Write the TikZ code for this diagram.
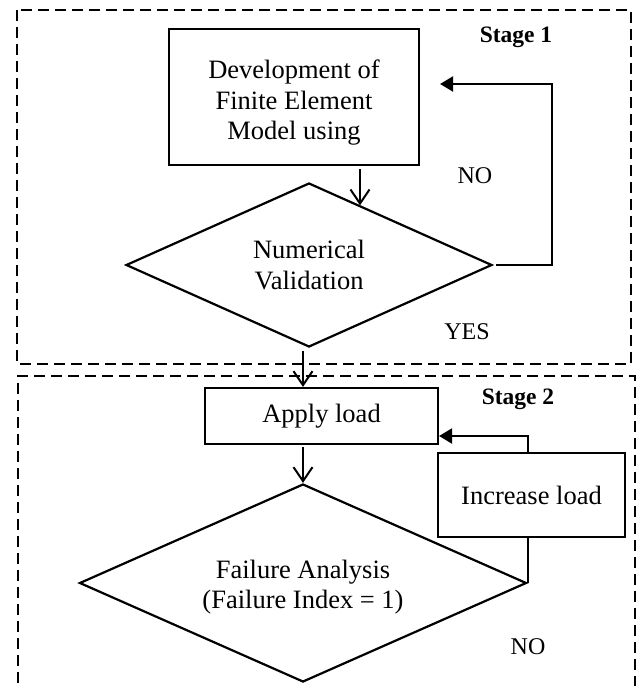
\documentclass[tikz,border=0pt]{standalone}
\usepackage{fontspec}
\setmainfont{Liberation Serif}
\usetikzlibrary{shapes.geometric,arrows.meta}

\begin{document}
\begin{tikzpicture}[x=1pt,y=-1pt,
        boxtext/.style={align=center,inner sep=0pt,font=\fontsize{26.5}{30.5}\selectfont},
        box/.style={draw,line width=2.1pt,boxtext},
        decision/.style={draw,diamond,aspect=2.2,line width=2.2pt,boxtext},
        barb/.style={line width=2pt,-{Straight Barb[length=14pt,width=19pt]}},
        tri/.style={line width=2.1pt,-{Triangle[length=13pt,width=15pt]}},
        stage/.style={line width=2.4pt,dash pattern=on 11pt off 6pt},
        lbl/.style={font=\fontsize{24}{28}\selectfont},
        stagelbl/.style={font=\bfseries\fontsize{23.5}{28}\selectfont}]
                \useasboundingbox (0,0) rectangle (639,686);
                \begin{scope}
                \clip (0,0) rectangle (639,686);
                % the two stages
                \draw[stage] (17,10) rectangle (631,364);
                \draw[stage] (18,700) -- (18,376) -- (635,376) -- (635,700);
                \end{scope}

                \node[box,minimum width=250pt,minimum height=136pt] (dev) at (294,97) {};
                \node[boxtext] (devtext) at ([yshift=-6pt]dev.center) {Development of\\Finite Element\\Model using};
                \node[decision,minimum width=366pt,minimum height=164pt] (val) at (309,265) {Numerical\\Validation};
                \node[box,minimum width=233pt,minimum height=56pt] (apply) at (321.5,416) {Apply load};
                \node[decision,minimum width=447pt,minimum height=198pt] (fail) at (303,583) {};
                \node[boxtext] (failtext) at ([yshift=-4pt]fail.center) {Failure Analysis\\(Failure Index = 1)};
                \node[box,minimum width=187pt,minimum height=84pt] (inc) at (531.5,495) {Increase load};

                \node[stagelbl] (s1) at (516,37) {Stage 1};
                \node[stagelbl] (s2) at (518,399) {Stage 2};
                \node[lbl] (no1) at (475,176) {NO};
                \node[lbl] (yes) at (467,332) {YES};
                \node[lbl] (no2) at (528,647) {NO};

                \draw[barb] ([xshift=66pt,yshift=-3pt]dev.south) -- ([xshift=66pt]dev.south |- val.49);
                \draw[tri] ([xshift=3pt]val.east) -- ++(56,0) |- ([xshift=20pt,yshift=13pt]dev.east);
                \draw[barb] ([xshift=-6pt,yshift=-3pt]val.south) -- ([xshift=-6pt]val.south |- apply.north);
                \draw[barb] ([yshift=-2pt]apply.south -| fail.north) -- (fail.north);
                \draw[line width=2.1pt] (fail.east) -- (fail.east |- inc.south);
                \draw[tri] (fail.east |- inc.north) |- ([yshift=-20pt]apply.east);
            \end{tikzpicture}
\end{document}
